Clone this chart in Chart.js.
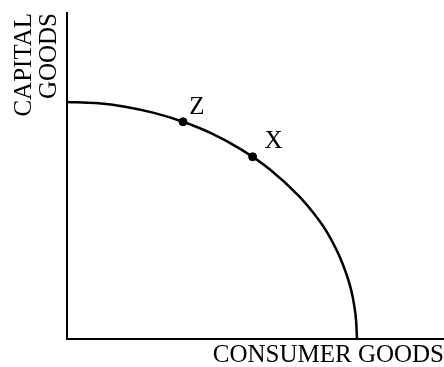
<!DOCTYPE html>
<html>
<head>
<meta charset="utf-8">
<script src="https://cdn.jsdelivr.net/npm/chart.js@4"></script>
<style>
  html, body { margin: 0; padding: 0; background: #fff; }
  #wrap { width: 444px; height: 367px; }
</style>
</head>
<body>
<div id="wrap"><canvas id="ppf"></canvas></div>
<script>
// Frontier (consumer goods -> capital goods)
const consumerGoods = [0, 1, 2, 3, 4, 5, 6, 7, 8, 8.5, 9, 9.5, 9.8, 9.9, 9.97, 10];
const capitalGoods = [8.0, 7.96, 7.84, 7.63, 7.33, 6.93, 6.4, 5.72, 4.82, 4.25, 3.55, 2.55, 1.65, 1.15, 0.6, 0];

// Marked points
const pointNames = ['Z', 'X'];
const pointConsumer = [4, 6.4];
const pointCapital = [7.33, 6.15];

const xTitle = 'CONSUMER GOODS';
const yTitle = ['CAPITAL', 'GOODS'];

const serif = "'Liberation Serif', 'Times New Roman', serif";

// draws the letter next to each marked point
const pointLabels = {
  id: 'pointLabels',
  afterDatasetsDraw(chart) {
    const meta = chart.getDatasetMeta(1);
    const ctx = chart.ctx;
    const shift = [[14, -14], [21, -15]];
    ctx.save();
    ctx.font = '25px ' + serif;
    ctx.fillStyle = '#000';
    ctx.textAlign = 'center';
    ctx.textBaseline = 'middle';
    meta.data.forEach((pt, i) => {
      ctx.fillText(pointNames[i], pt.x + shift[i][0], pt.y + shift[i][1]);
    });
    ctx.restore();
  }
};

new Chart(document.getElementById('ppf'), {
  type: 'line',
  data: {
    datasets: [{
      data: consumerGoods.map((x, i) => ({ x: x, y: capitalGoods[i] })),
      borderColor: '#000',
      borderWidth: 2.5,
      pointRadius: 0,
      cubicInterpolationMode: 'monotone',
      fill: false
    }, {
      type: 'scatter',
      data: pointConsumer.map((x, i) => ({ x: x, y: pointCapital[i] })),
      backgroundColor: '#000',
      borderColor: '#000',
      pointRadius: 4,
      showLine: false
    }]
  },
  options: {
    responsive: true,
    maintainAspectRatio: false,
    animation: false,
    layout: { autoPadding: false, padding: { left: 12, top: 13, right: 0, bottom: 0 } },
    plugins: {
      legend: { display: false },
      tooltip: { enabled: false }
    },
    scales: {
      x: {
        type: 'linear',
        min: 0,
        max: 13,
        grid: { display: false, drawTicks: false },
        border: { display: true, color: '#000', width: 2 },
        ticks: { display: false },
        title: {
          display: true,
          text: xTitle,
          align: 'end',
          color: '#000',
          font: { family: serif, size: 25, lineHeight: 0.96 },
          padding: { top: 4, bottom: 0 }
        }
      },
      y: {
        type: 'linear',
        min: 0,
        max: 11,
        grid: { display: false, drawTicks: false },
        border: { display: true, color: '#000', width: 2 },
        ticks: { display: false },
        title: {
          display: true,
          text: yTitle,
          align: 'end',
          color: '#000',
          font: { family: serif, size: 25, lineHeight: 1 },
          padding: { top: 0, bottom: 5 }
        }
      }
    }
  },
  plugins: [pointLabels]
});
</script>
</body>
</html>
